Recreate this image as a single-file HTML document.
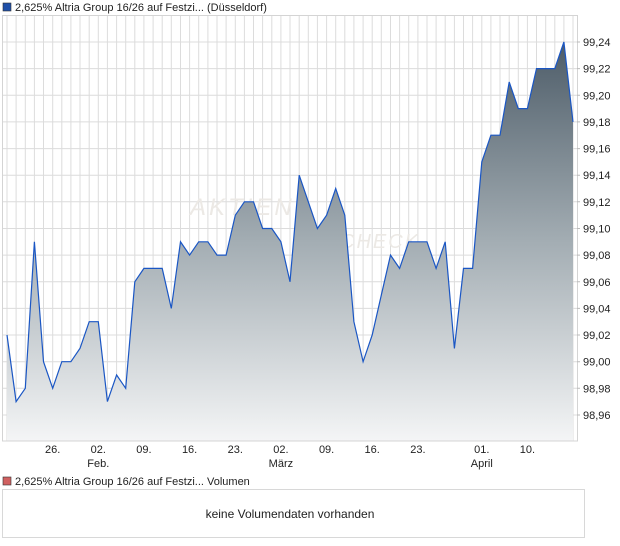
<!DOCTYPE html>
<html><head><meta charset="utf-8"><style>
body{margin:0;background:#fff;}
svg{display:block;font-family:"Liberation Sans",sans-serif;}
</style></head><body>
<svg width="620" height="546" viewBox="0 0 620 546" xmlns="http://www.w3.org/2000/svg">
<defs>
<linearGradient id="g" gradientUnits="userSpaceOnUse" x1="0" y1="42" x2="0" y2="441">
<stop offset="0" stop-color="#4d5c68"/><stop offset="0.5" stop-color="#a3adb3"/><stop offset="1" stop-color="#f4f5f6"/>
</linearGradient>
</defs>
<rect x="3" y="3" width="8" height="8" fill="#1f4fa8" stroke="#333" stroke-width="0.6"/>
<text x="15" y="11" font-size="11" fill="#222">2,625% Altria Group 16/26 auf Festzi... (Düsseldorf)</text>
<g stroke="#dcdcdc" stroke-width="1">
<path d="M7 16V441M16.1 16V441M25.3 16V441M34.4 16V441M43.5 16V441M52.7 16V441M61.8 16V441M70.9 16V441M80 16V441M89.2 16V441M98.3 16V441M107.4 16V441M116.6 16V441M125.7 16V441M134.8 16V441M143.9 16V441M153.1 16V441M162.2 16V441M171.3 16V441M180.5 16V441M189.6 16V441M198.7 16V441M207.9 16V441M217 16V441M226.1 16V441M235.3 16V441M244.4 16V441M253.5 16V441M262.6 16V441M271.8 16V441M280.9 16V441M290 16V441M299.2 16V441M308.3 16V441M317.4 16V441M326.6 16V441M335.7 16V441M344.8 16V441M353.9 16V441M363.1 16V441M372.2 16V441M381.3 16V441M390.5 16V441M399.6 16V441M408.7 16V441M417.9 16V441M427 16V441M436.1 16V441M445.2 16V441M454.4 16V441M463.5 16V441M472.6 16V441M481.8 16V441M490.9 16V441M500 16V441M509.2 16V441M518.3 16V441M527.4 16V441M536.5 16V441M545.7 16V441M554.8 16V441M563.9 16V441M573 16V441"/>
<path d="M2 42H577M2 68.6H577M2 95.3H577M2 121.9H577M2 148.6H577M2 175.2H577M2 201.8H577M2 228.5H577M2 255.1H577M2 281.8H577M2 308.4H577M2 335H577M2 361.7H577M2 388.3H577M2 415H577"/>
</g>
<text x="190" y="215" font-size="24" font-style="italic" fill="#ece9e5" letter-spacing="3">AKTIEN</text>
<text x="340" y="248" font-size="20" font-style="italic" fill="#ece9e5" letter-spacing="2">CHECK</text>
<polygon fill="url(#g)" points="7,441 7,335 16.1,401.6 25.3,388.3 34.4,241.8 43.5,361.7 52.7,388.3 61.8,361.7 70.9,361.7 80,348.4 89.2,321.7 98.3,321.7 107.4,401.6 116.6,375 125.7,388.3 134.8,281.8 143.9,268.4 153.1,268.4 162.2,268.4 171.3,308.4 180.5,241.8 189.6,255.1 198.7,241.8 207.9,241.8 217,255.1 226.1,255.1 235.3,215.2 244.4,201.8 253.5,201.8 262.6,228.5 271.8,228.5 280.9,241.8 290,281.8 299.2,175.2 308.3,201.8 317.4,228.5 326.6,215.2 335.7,188.5 344.8,215.2 353.9,321.7 363.1,361.7 372.2,335 381.3,295.1 390.5,255.1 399.6,268.4 408.7,241.8 417.9,241.8 427,241.8 436.1,268.4 445.2,241.8 454.4,348.4 463.5,268.4 472.6,268.4 481.8,161.9 490.9,135.2 500,135.2 509.2,82 518.3,108.6 527.4,108.6 536.5,68.6 545.7,68.6 554.8,68.6 563.9,42 573,121.9 573,441"/>
<polyline fill="none" stroke="#1a56c4" stroke-width="1.2" points="7,335 16.1,401.6 25.3,388.3 34.4,241.8 43.5,361.7 52.7,388.3 61.8,361.7 70.9,361.7 80,348.4 89.2,321.7 98.3,321.7 107.4,401.6 116.6,375 125.7,388.3 134.8,281.8 143.9,268.4 153.1,268.4 162.2,268.4 171.3,308.4 180.5,241.8 189.6,255.1 198.7,241.8 207.9,241.8 217,255.1 226.1,255.1 235.3,215.2 244.4,201.8 253.5,201.8 262.6,228.5 271.8,228.5 280.9,241.8 290,281.8 299.2,175.2 308.3,201.8 317.4,228.5 326.6,215.2 335.7,188.5 344.8,215.2 353.9,321.7 363.1,361.7 372.2,335 381.3,295.1 390.5,255.1 399.6,268.4 408.7,241.8 417.9,241.8 427,241.8 436.1,268.4 445.2,241.8 454.4,348.4 463.5,268.4 472.6,268.4 481.8,161.9 490.9,135.2 500,135.2 509.2,82 518.3,108.6 527.4,108.6 536.5,68.6 545.7,68.6 554.8,68.6 563.9,42 573,121.9"/>
<rect x="2.5" y="15.5" width="575" height="425.5" fill="none" stroke="#d4d4d4"/>
<g stroke="#bbb"><path d="M577 42h3M577 68.6h3M577 95.3h3M577 121.9h3M577 148.6h3M577 175.2h3M577 201.8h3M577 228.5h3M577 255.1h3M577 281.8h3M577 308.4h3M577 335h3M577 361.7h3M577 388.3h3M577 415h3"/></g>
<g font-size="11" fill="#222">
<text x="583" y="46">99,24</text><text x="583" y="72.6">99,22</text><text x="583" y="99.3">99,20</text><text x="583" y="125.9">99,18</text><text x="583" y="152.6">99,16</text><text x="583" y="179.2">99,14</text><text x="583" y="205.8">99,12</text><text x="583" y="232.5">99,10</text><text x="583" y="259.1">99,08</text><text x="583" y="285.8">99,06</text><text x="583" y="312.4">99,04</text><text x="583" y="339">99,02</text><text x="583" y="365.7">99,00</text><text x="583" y="392.3">98,98</text><text x="583" y="419">98,96</text>
</g>
<g font-size="11" fill="#222" text-anchor="middle">
<text x="52.7" y="453">26.</text><text x="98.3" y="453">02.</text><text x="143.9" y="453">09.</text><text x="189.6" y="453">16.</text><text x="235.3" y="453">23.</text><text x="280.9" y="453">02.</text><text x="326.6" y="453">09.</text><text x="372.2" y="453">16.</text><text x="417.9" y="453">23.</text><text x="481.8" y="453">01.</text><text x="527.4" y="453">10.</text>
<text x="98.3" y="467">Feb.</text><text x="280.9" y="467">März</text><text x="481.8" y="467">April</text>
</g>
<rect x="3" y="477" width="8" height="8" fill="#d06060" stroke="#333" stroke-width="0.6"/>
<text x="15" y="485" font-size="11" fill="#222">2,625% Altria Group 16/26 auf Festzi... Volumen</text>
<rect x="2.5" y="489.5" width="582" height="48" fill="#fff" stroke="#d8d8d8"/>
<text x="290" y="518" font-size="12" fill="#222" text-anchor="middle">keine Volumendaten vorhanden</text>
</svg>
</body></html>
